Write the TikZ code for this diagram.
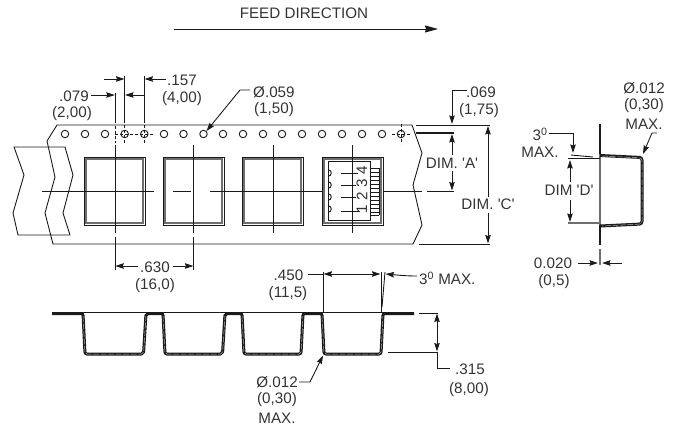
\documentclass[tikz,border=0pt]{standalone}
\usepackage{fontspec}
\setmainfont{Liberation Sans}
\usetikzlibrary{arrows.meta}
\definecolor{tc}{HTML}{333333}
\definecolor{ln}{HTML}{1A1A1A}
\definecolor{pk}{HTML}{6E6E6E}
\tikzset{
  lbl/.style={font=\fontsize{15.2}{17}\selectfont,inner sep=0pt,text=tc},
  thin line/.style={draw=ln,line width=0.9pt},
  dim/.style={draw=ln,line width=0.9pt,-{Stealth[length=8.5pt,width=5.5pt,inset=1pt]}},
  dimboth/.style={draw=ln,line width=0.9pt,{Stealth[length=8.5pt,width=5.5pt,inset=1pt]}-{Stealth[length=8.5pt,width=5.5pt,inset=1pt]}},
  holecirc/.style={draw=ln,line width=0.9pt,circle,minimum size=7.5pt,inner sep=0pt},
  dotline/.style={draw=ln,line width=0.9pt,dash pattern=on 2.5pt off 2.5pt},
  pocket/.style={draw=ln,line width=1pt},
  pocketin/.style={draw=pk,line width=2pt},
  wall/.style={draw=ln,line width=3pt,line join=round},
  wallin/.style={draw=white!70!black,line width=0.5pt,dash pattern=on 6pt off 1.5pt,line join=round},
}
\newcommand{\pocketbox}[2]{%
  \draw[pocket] (#1,157) rectangle (#2,225);
  \draw[pocketin] ({#1+1.8},158.8) rectangle ({#2-1.8},223.2);
}
\begin{document}
\begin{tikzpicture}[x=1pt,y=-1pt]
\useasboundingbox (0,0) rectangle (678,426);
% feed direction
\node[lbl] (feed) at (304,13) {FEED DIRECTION};
\coordinate (fa) at (174,29); \coordinate (fb) at (438,29);
\draw[draw=ln,line width=0.9pt,-{Stealth[length=13pt,width=7pt,inset=1pt]}] (fa) -- (fb);
% chevron leader piece
\draw[thin line,line join=round] (14,147) -- (65,147) -- (73,175) -- (63,213) -- (70,235) -- (18,235) -- (13,213) -- (24,175) -- cycle;
% tape outline
\draw[thin line,line join=round] (55,177) -- (47,141) -- (57,125) -- (412,125) -- (422,153) -- (413,185) -- (422,225) -- (413,244) -- (53,244) -- (45,213) -- cycle;
% pockets
\pocketbox{84}{145}
\pocketbox{163}{224}
\pocketbox{242}{303}
\pocketbox{322}{383}
% centre line
\draw[thin line] (42,191) -- (154,191);
\draw[thin line] (173,191) -- (191,191);
\draw[thin line] (210,191) -- (322,191);
\draw[thin line] (383,191) -- (422,191);
\draw[thin line] (427,191) -- (454,191);
% holes
\foreach \n/\x in {a/65,b/85,c/105,d/124.7,e/144.3,f/164,g/183.5,h/203.5,i/223,j/263,k/282,l/302,m/322,n/342,o/362,p/382,q/401}{
  \node[holecirc] (hole\n) at (\x,134) {};
}
\node[holecirc] (holer) at (243,134) {};
\draw[dotline] (115,134) -- (154,134);
\draw[dotline] (392,134) -- (411,134);
\draw[dotline] (124.7,125) -- (124.7,144);
\draw[dotline] (144.3,125) -- (144.3,144);
\draw[dotline] (401,124) -- (401,144);
% vertical centre lines
\draw[thin line] (115,93) -- (115,123);
\draw[dotline] (115,126) -- (115,143);
\draw[thin line] (115,145) -- (115,233);
\draw[thin line] (115,237) -- (115,270);
\draw[thin line] (193.7,145) -- (193.7,233);
\draw[thin line] (193.7,237) -- (193.7,270);
\draw[thin line] (273,145) -- (273,233);
\draw[thin line] (352,145) -- (352,233);
% .157 / .079
\draw[thin line] (124.7,76) -- (124.7,123);
\draw[thin line] (144.3,76) -- (144.3,123);
\draw[dim] (104,79) -- (124.5,79);
\draw[dim] (166,79) -- (144.5,79);
\draw[dim] (91,95) -- (114.8,95);
\draw[dim] (144.3,95) -- (125,95);
\node[lbl,anchor=west] (t157) at (167,80) {.157};
\node[lbl] (t400) at (182,99) {(4,00)};
\node[lbl,anchor=east] (t079) at (89,96) {.079};
\node[lbl] (t200) at (72,114) {(2,00)};
% dia .059
\node[lbl,anchor=west] (t059) at (253,92) {Ø.059};
\node[lbl] (t150) at (274,110) {(1,50)};
\draw[dim] (250,90) -- (240,90) -- (holeh.north east);
% .069 and dim A
\node[lbl,anchor=west] (t069) at (466,92) {.069};
\node[lbl] (t175) at (479,111) {(1,75)};
\draw[thin line] (416,125) -- (490,125);
\draw[draw=ln,line width=1.4pt] (416,133) -- (454,133);
\draw[dim] (467,90) -- (452,90) -- (452,124);
\node[lbl] (tdima) at (452,163) {DIM. \textquotesingle A\textquotesingle};
\draw[dim] (452,155) -- (452,134);
\draw[dim] (452,171) -- (452,190.5);
% dim C
\draw[thin line] (419,244) -- (490,244);
\node[lbl] (tdimc) at (488,204) {DIM. \textquotesingle C\textquotesingle};
\draw[dim] (488,197) -- (488,126);
\draw[dim] (488,213) -- (488,243.5);
% .630
\draw[dim] (138,266) -- (115.3,266);
\draw[dim] (173,266) -- (193.4,266);
\node[lbl] (t630) at (155,267) {.630};
\node[lbl] (t160) at (155,286) {(16,0)};
% IC in the fourth pocket
\draw[thin line] (328,161) rectangle (370,220);
\foreach \c in {173,185,197,209}{
  \draw[thin line] (328,{\c-3.3}) arc[start angle=-90,end angle=90,radius=3.3,y=-1pt];
}
\foreach \c in {168,172,176,180,184,188,192,196,200,204,208,212,215}{
  \draw[draw=ln,line width=0.7pt] (370,\c) -- (379,\c);
}
\draw[draw=ln,line width=0.7pt] (379,168) -- (379,215);
\draw[thin line] (341,173) -- (358,173);
\draw[thin line] (341,185) -- (356,185);
\draw[thin line] (341,197) -- (356,197);
\draw[thin line] (341,211) -- (360,211);
\node[lbl,rotate=90] (d4) at (362,170) {4};
\node[lbl,rotate=90] (d3) at (362,183) {3};
\node[lbl,rotate=90] (d2) at (362,196) {2};
\node[lbl,rotate=90] (d1) at (362,209) {1};
% right section
\draw[draw=ln,line width=2.6pt] (600,124) -- (600,154);
\draw[draw=pk,line width=1.2pt] (600,154) -- (600,225);
\draw[draw=ln,line width=2.6pt] (600,225) -- (600,245);
\draw[draw=pk,line width=2.6pt] (600,249) -- (600,265);
\draw[wall,rounded corners=2.5pt] (600,155.5) -- (642,157.5) -- (642,224) -- (600,226);
\draw[wallin,rounded corners=2.5pt] (602,156) -- (642,158) -- (642,224) -- (602,226);
\draw[thin line] (571,155) -- (593,157);
\draw[draw=ln,line width=1pt] (568,158) -- (600,158);
\draw[draw=pk,line width=1.2pt] (568,223) -- (600,223);
\node[lbl] (t3a) at (540,134) {3\textsuperscript{0}};
\node[lbl] (tmaxa) at (540,152) {MAX.};
\draw[dim] (549,133) -- (573,133) -- (573,153);
\node[lbl] (tdimd) at (569,190) {DIM \textquotesingle D\textquotesingle};
\draw[dim] (570,182) -- (570,160);
\draw[dim] (570,200) -- (570,222);
\node[lbl] (tz12a) at (644,88) {Ø.012};
\node[lbl] (t030a) at (644,106) {(0,30)};
\node[lbl] (tmaxb) at (644,124) {MAX.};
\draw[dim] (657,133) -- (652,133) -- (643,154);
\node[lbl] (t020) at (553,263) {0.020};
\node[lbl] (t05) at (554,282) {(0,5)};
\draw[dim] (578,263) -- (598,263);
\draw[dim] (622,263) -- (602,263);
% bottom section
\draw[wall,rounded corners=2pt] (52,313.5) -- (83,313.5) -- (85,354) -- (143.5,354) -- (146,313.5) -- (163,313.5) -- (165,354) -- (222.5,354) -- (225,313.5) -- (242,313.5) -- (244,354) -- (301,354) -- (303,313.5) -- (322,313.5) -- (324,354) -- (381,354) -- (383,313.5) -- (414,313.5);
\draw[wallin,rounded corners=2pt] (83,316) -- (85,354) -- (143.5,354) -- (146,316);
\draw[wallin,rounded corners=2pt] (163,316) -- (165,354) -- (222.5,354) -- (225,316);
\draw[wallin,rounded corners=2pt] (242,316) -- (244,354) -- (301,354) -- (303,316);
\draw[wallin,rounded corners=2pt] (322,316) -- (324,354) -- (381,354) -- (383,316);
\draw[thin line] (52,312.6) -- (414,312.6);
% .450
\draw[thin line] (323,272) -- (323,313);
\draw[thin line] (381,272) -- (381,313);
\draw[thin line] (385,272) -- (382,307);
\draw[thin line] (308,274) -- (323,274);
\draw[dimboth] (323.5,274) -- (380.5,274);
\node[lbl,anchor=east] (t450) at (303.5,275) {.450};
\node[lbl] (t115) at (288,294) {(11,5)};
\draw[dim] (417,276) .. controls (405,276) and (397,275) .. (385.5,274);
\node[lbl,anchor=west] (t3b) at (419,278) {3\textsuperscript{0} MAX.};
% .315
\draw[thin line] (419,313) -- (438,313);
\draw[thin line] (388,352) -- (438,352);
\draw[dimboth] (437,313.5) -- (437,351.5);
\draw[thin line] (437,352) -- (437,368) -- (450,368);
\node[lbl,anchor=west] (t315) at (455,369) {.315};
\node[lbl] (t800) at (469,390) {(8,00)};
% dia .012 bottom
\node[lbl,anchor=east] (tz12b) at (298,382) {Ø.012};
\node[lbl] (t030b) at (277,400) {(0,30)};
\node[lbl] (tmaxc) at (277,418) {MAX.};
\draw[dim] (299,382) -- (310,382) -- (323,355.5);
\end{tikzpicture}
\end{document}
